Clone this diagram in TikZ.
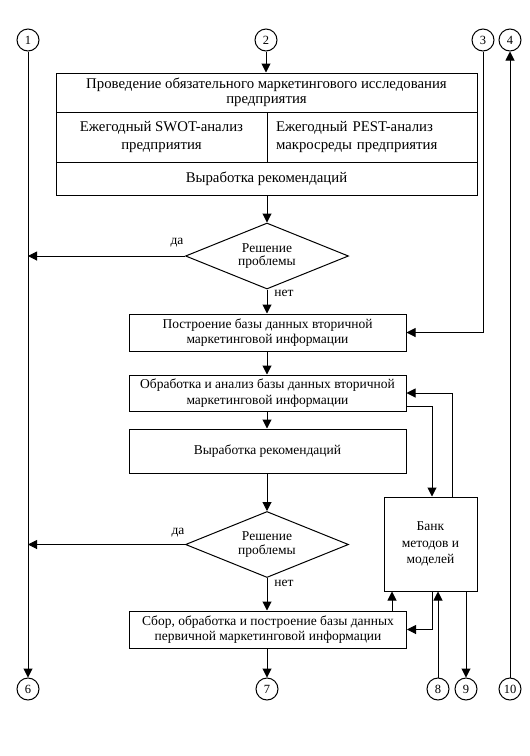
\documentclass[tikz,border=0pt]{standalone}
\usepackage{fontspec}
\setmainfont{Liberation Serif}
\usetikzlibrary{shapes.geometric,arrows.meta,calc}
\begin{document}
\begin{tikzpicture}[x=1pt,y=-1pt,
  every node/.style={font=\fontsize{13.5}{15.5}\selectfont},
  line width=1pt,
  arr/.style={-{Triangle[length=9pt,width=9pt]}},
  box/.style={draw,rectangle,align=center,inner sep=2pt},
  topbox/.style={box,font=\fontsize{14.8}{15.5}\selectfont},
  circ/.style={draw,circle,minimum size=22pt,inner sep=0pt,font=\fontsize{12.5}{14}\selectfont},
  dec/.style={draw,diamond,aspect=2.5,minimum width=163pt,minimum height=66pt,inner sep=0pt,align=center,font=\fontsize{13.5}{13.5}\selectfont},
  lbl/.style={inner sep=0pt,font=\fontsize{13.5}{14}\selectfont}]
\useasboundingbox (0,0) rectangle (530,756);
\fill[white] (0,0) rectangle (530,756);
% circles
\node[circ] (c1) at (28,40) {1};
\node[circ] (c2) at (266,40) {2};
\node[circ] (c3) at (483,40) {3};
\node[circ] (c4) at (510,40) {4};
\node[circ] (c6) at (28,689) {6};
\node[circ] (c7) at (267,689) {7};
\node[circ] (c8) at (438,689) {8};
\node[circ] (c9) at (466,689) {9};
\node[circ] (c10) at (510,689) {10};
% top block
\node[topbox,minimum width=421pt,minimum height=39pt] (title) at (266.5,92.5) {Проведение обязательного маркетингового исследования\\предприятия};
\node[topbox,minimum width=211pt,minimum height=50pt] (swot) at (161.5,137) {Ежегодный SWOT-анализ\\[3pt]предприятия};
\node[topbox,minimum width=210pt,minimum height=50pt,text width=192pt,inner xsep=9pt,align=left] (pest) at (372,137) {Ежегодный PEST-анализ\\[3pt]макросреды предприятия};
\node[topbox,minimum width=421pt,minimum height=33pt] (rec1) at (266.5,178.5) {Выработка рекомендаций};
% decision 1
\node[dec] (d1) at (267,256) {Решение\\проблемы};
\node[lbl] (da1) at (177,243) {да};
\node[lbl] (net1) at (284,293) {нет};
% boxes
\node[box,minimum width=277pt,minimum height=37pt] (b2) at (267.5,332.5) {Построение базы данных вторичной\\маркетинговой информации};
\node[box,minimum width=277pt,minimum height=36pt] (b3) at (267.5,393) {Обработка и анализ базы данных вторичной\\маркетинговой информации};
\node[box,minimum width=277pt,minimum height=44pt] (b4) at (267.5,451) {Выработка рекомендаций};
\node[dec] (d2) at (267,544.5) {Решение\\проблемы};
\node[lbl] (da2) at (178,533) {да};
\node[lbl] (net2) at (284,583) {нет};
\node[box,minimum width=277pt,minimum height=37pt] (b5) at (268,629.5) {Сбор, обработка и построение базы данных\\первичной маркетинговой информации};
\node[box,minimum width=93pt,minimum height=94pt,font=\fontsize{13.5}{16.5}\selectfont] (bank) at (430.5,544) {Банк\\методов и\\моделей};
% connectors
\draw[arr] (c1) -- (c6);
\draw[arr] (c2) -- (title.north -| c2);
\draw[arr] (rec1.south -| d1) -- (d1.north);
\draw[arr] (d1.west) -- (d1.west -| c1);
\draw[arr] (d1.south) -- (d1.south |- b2.north);
\draw[arr] (c3) |- (b2.east);
\draw[arr] (b2.south -| d1) -- (b3.north -| d1);
\draw[arr] (b3.south -| d1) -- (b4.north -| d1);
\draw[arr] (b4.south -| d1) -- (d2.north);
\draw[arr] (d2.west) -- (d2.west -| c1);
\draw[arr] (d2.south) -- (d2.south |- b5.north);
\draw[arr] (b5.south -| c7) -- (c7);
\draw[arr] ([yshift=-13pt]b3.east) -| ([xshift=1.5pt]bank.north);
\draw[arr] ([xshift=21.5pt]bank.north) |- (b3.east);
\draw[arr] ([xshift=1.5pt]bank.south) |- (b5.east);
\draw[arr] ([xshift=-15pt]b5.north east) -- ([xshift=-15pt]b5.north east |- bank.south);
\draw[arr] (c8) -- (c8 |- bank.south);
\draw[arr] (c9 |- bank.south) -- (c9);
\draw[arr] (c10) -- (c4);
\end{tikzpicture}
\end{document}
